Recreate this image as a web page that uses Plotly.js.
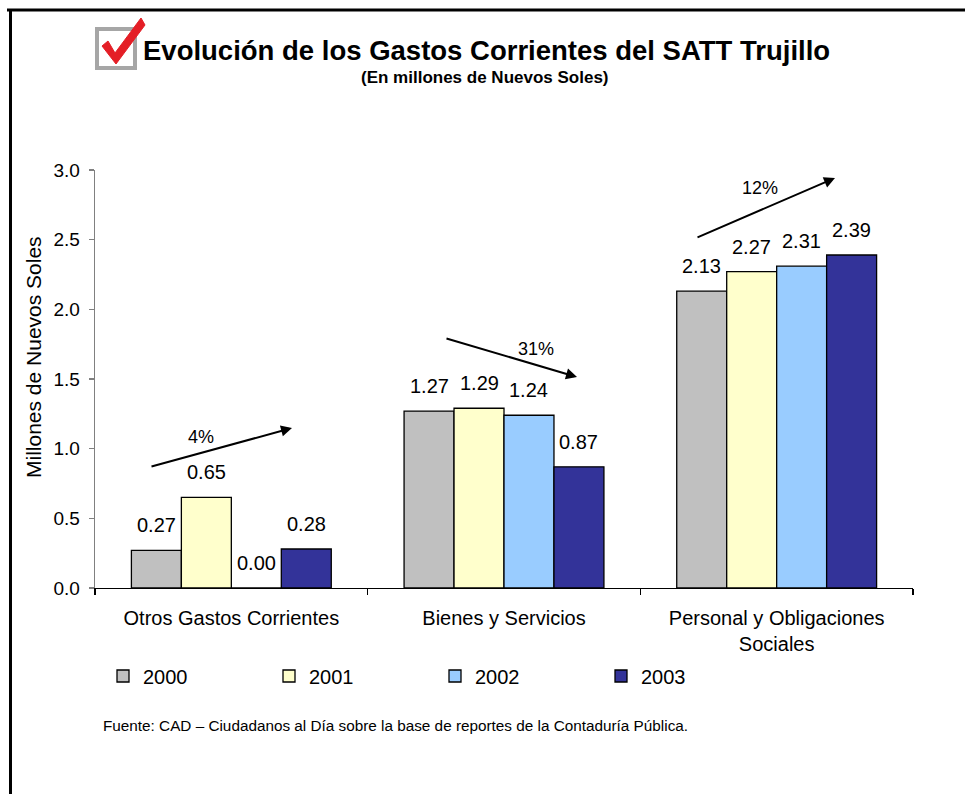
<!DOCTYPE html>
<html>
<head>
<meta charset="utf-8">
<script src="https://cdn.plot.ly/plotly-3.0.1.min.js"></script>
<style>
  html, body { margin: 0; padding: 0; background: #fff; }
  #chart { width: 965px; height: 794px; }
</style>
</head>
<body>
<div id="chart"></div>
<script>
// ---- Data ----
const categories = ["Otros Gastos Corrientes", "Bienes y Servicios", "Personal y Obligaciones<br>Sociales"];
const years = ["2000", "2001", "2002", "2003"];
const values2000 = [0.27, 1.27, 2.13];
const values2001 = [0.65, 1.29, 2.27];
const values2002 = [0.00, 1.24, 2.31];
const values2003 = [0.28, 0.87, 2.39];
const seriesValues = [values2000, values2001, values2002, values2003];
const seriesColors = ["#C0C0C0", "#FFFFCC", "#99CCFF", "#333399"];
const trendLabels = ["4%", "31%", "12%"];
const yTickVals = [0, 0.5, 1.0, 1.5, 2.0, 2.5, 3.0];

// ---- Layout geometry (pixels) ----
const W = 965, H = 794;
const M = { l: 95, r: 52, t: 170, b: 206 };
const PW = W - M.l - M.r, PH = H - M.t - M.b;
const xp = px => (px - M.l) / PW;
const yp = py => (H - M.b - py) / PH;
const FONT = "Liberation Sans, Arial, sans-serif";
const bargap = 0.267;

const traces = years.map((yr, j) => ({
  type: "bar",
  name: yr,
  x: categories,
  y: seriesValues[j],
  marker: { color: seriesColors[j], line: { color: "#000", width: 1.3 } },
  hoverinfo: "none"
}));

// value labels above the bars
const annotations = [];
const bw = (1 - bargap) / years.length;
years.forEach((yr, j) => {
  seriesValues[j].forEach((v, i) => {
    annotations.push({
      xref: "x", yref: "y",
      x: i + (j - (years.length - 1) / 2) * bw,
      y: v,
      yanchor: "bottom", yshift: 12,
      text: v.toFixed(2),
      showarrow: false,
      font: { family: FONT, size: 20, color: "#000" }
    });
  });
});

// trend arrows (tail -> head, px) and labels
const arrows = [
  { tail: [150, 467], head: [292, 428], lab: [201, 437] },
  { tail: [445, 338], head: [577, 377], lab: [536, 349] },
  { tail: [696, 238], head: [835, 178], lab: [760, 188] }
];
arrows.forEach((a, k) => {
  annotations.push({
    xref: "paper", yref: "paper",
    x: xp(a.head[0]), y: yp(a.head[1]),
    ax: a.tail[0] - a.head[0], ay: a.tail[1] - a.head[1],
    axref: "pixel", ayref: "pixel",
    text: "", showarrow: true,
    arrowhead: 2, arrowsize: 1.1, arrowwidth: 2, arrowcolor: "#000"
  });
  annotations.push({
    xref: "paper", yref: "paper",
    x: xp(a.lab[0]), y: yp(a.lab[1]),
    xanchor: "center", yanchor: "middle",
    text: trendLabels[k], showarrow: false,
    font: { family: FONT, size: 18, color: "#000" }
  });
});

// titles
annotations.push({
  xref: "paper", yref: "paper", x: xp(486), y: yp(50),
  xanchor: "center", yanchor: "middle", showarrow: false,
  text: "<b>Evolución de los Gastos Corrientes del SATT Trujillo</b>",
  font: { family: FONT, size: 27.5, color: "#000" }
});
annotations.push({
  xref: "paper", yref: "paper", x: xp(485), y: yp(78),
  xanchor: "center", yanchor: "middle", showarrow: false,
  text: "<b>(En millones de Nuevos Soles)</b>",
  font: { family: FONT, size: 17, color: "#000" }
});
annotations.push({
  xref: "paper", yref: "paper", x: xp(101), y: yp(725),
  xanchor: "left", yanchor: "middle", showarrow: false,
  text: "Fuente: CAD – Ciudadanos al Día sobre la base de reportes de la Contaduría Pública.",
  font: { family: FONT, size: 15.3, color: "#000" }
});
// y-axis title
annotations.push({
  xref: "paper", yref: "paper", x: xp(33), y: yp(357),
  xanchor: "center", yanchor: "middle", showarrow: false, textangle: -90,
  text: "Millones de Nuevos Soles",
  font: { family: FONT, size: 21, color: "#000" }
});

const shapes = [
  // frame
  { type: "line", xref: "paper", yref: "paper", x0: xp(7), x1: xp(966), y0: yp(10), y1: yp(10), line: { color: "#000", width: 3 } },
  { type: "line", xref: "paper", yref: "paper", x0: xp(10.5), x1: xp(10.5), y0: yp(9), y1: yp(796), line: { color: "#000", width: 3 } },
  // check box
  { type: "rect", xref: "paper", yref: "paper", x0: xp(97), x1: xp(135), y0: yp(29), y1: yp(68), line: { color: "#A6A6A6", width: 4 }, fillcolor: "rgba(0,0,0,0)" },
  // red check
  { type: "path", xref: "paper", yref: "paper",
    path: "M" + xp(102) + "," + yp(46) + " L" + xp(108) + "," + yp(41) + " L" + xp(115) + "," + yp(53) +
          " L" + xp(141) + "," + yp(18) + " L" + xp(145) + "," + yp(25) + " L" + xp(116) + "," + yp(64) + " Z",
    fillcolor: "#E41E26", line: { color: "#E41E26", width: 1 } }
];

const layout = {
  width: W, height: H,
  margin: M,
  paper_bgcolor: "#fff", plot_bgcolor: "#fff",
  font: { family: FONT, size: 20, color: "#000" },
  barmode: "group", bargap: bargap, bargroupgap: 0,
  showlegend: true,
  legend: {
    orientation: "h", x: xp(103), xanchor: "left", y: yp(676), yanchor: "middle",
    entrywidth: 121, entrywidthmode: "pixels",
    font: { family: FONT, size: 20, color: "#000" },
    bgcolor: "rgba(0,0,0,0)", traceorder: "normal"
  },
  xaxis: {
    type: "category", showgrid: false, zeroline: false,
    showline: true, linecolor: "#000", linewidth: 1.3,
    ticks: "outside", tickson: "boundaries", ticklen: 6, tickcolor: "#000", tickwidth: 1.3,
    ticklabelstandoff: 12,
    tickfont: { family: FONT, size: 20, color: "#000" },
    fixedrange: true
  },
  yaxis: {
    range: [0, 3], tickvals: yTickVals, ticktext: yTickVals.map(v => v.toFixed(1)),
    showgrid: false, zeroline: false,
    showline: true, linecolor: "#808080", linewidth: 1.3,
    ticks: "outside", ticklen: 5, tickcolor: "#808080", tickwidth: 1.3,
    ticklabelstandoff: 5,
    tickfont: { family: FONT, size: 19, color: "#000" },
    fixedrange: true
  },
  annotations: annotations,
  shapes: shapes
};

Plotly.newPlot("chart", traces, layout, { staticPlot: true, displayModeBar: false });
</script>
</body>
</html>
